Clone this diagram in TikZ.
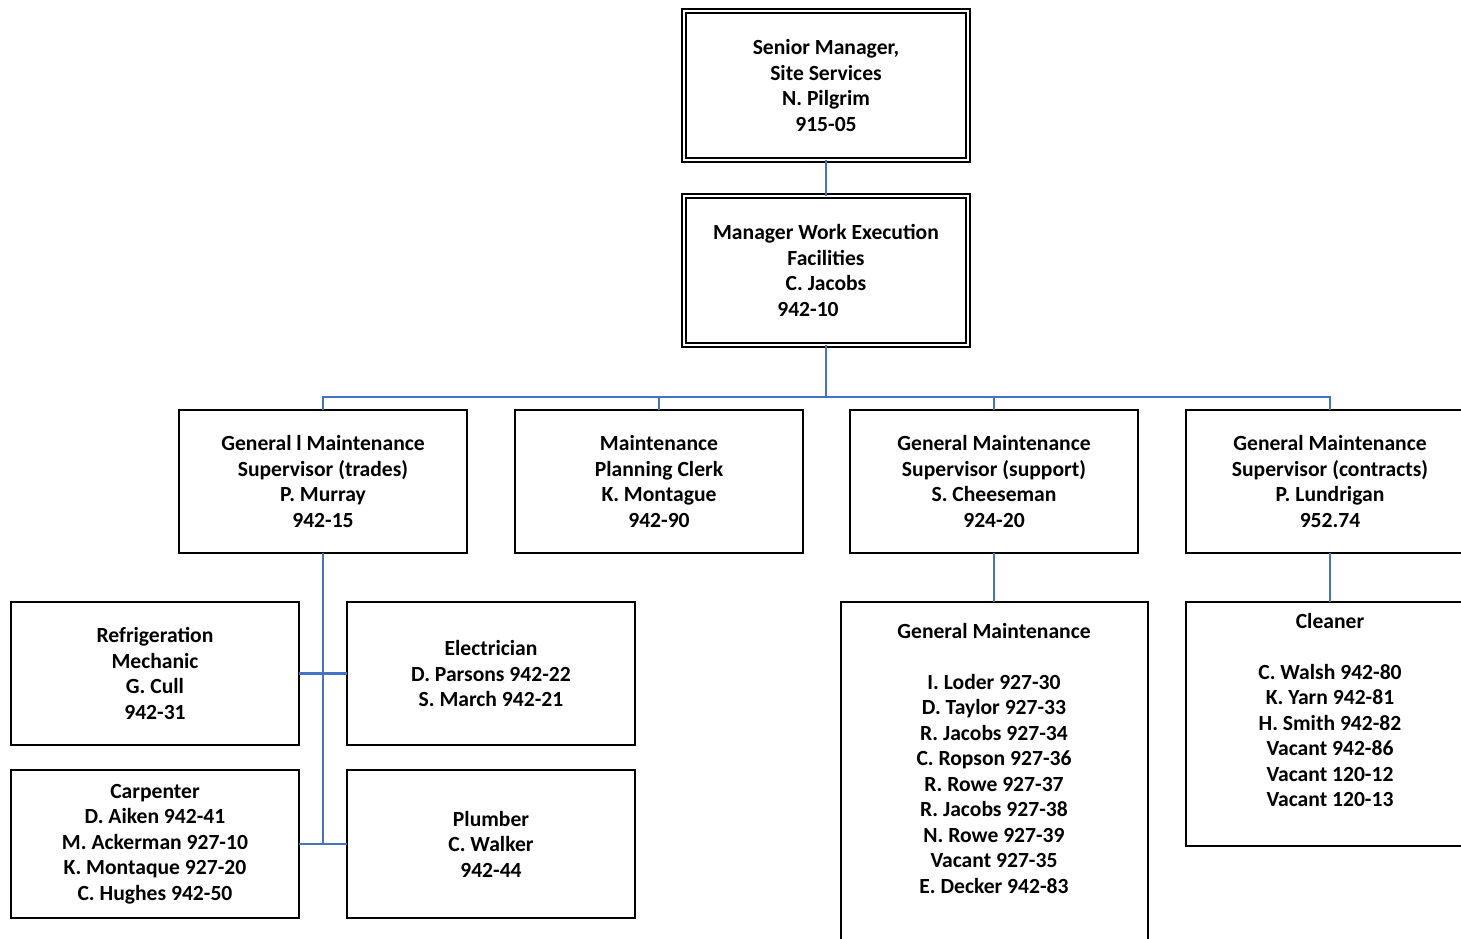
\documentclass[tikz,border=0pt]{standalone}
\usepackage{fontspec}
\setmainfont{Carlito}
\definecolor{linkblue}{RGB}{68,114,196}
\begin{document}
\begin{tikzpicture}[x=1pt,y=-1pt,
  every node/.style={font=\bfseries\fontsize{21.6}{25.5}\selectfont, align=center, inner sep=0pt, outer sep=0pt},
  box/.style={draw=black, line width=1.4pt, minimum width=288pt, minimum height=143pt},
  dbox/.style={draw=black, line width=1.5pt, double, double distance=2.2pt, minimum width=284pt, minimum height=149pt},
  conn/.style={draw=linkblue, line width=1.6pt},
  bus/.style={draw=linkblue, line width=2.2pt}
]
\useasboundingbox (0,0) rectangle (1461,939);
\fill[white] (0,0) rectangle (1461,939);

% top boxes
\node[dbox] (sm) at (826,85.5) {Senior Manager,\\Site Services\\N. Pilgrim\\915-05};
\node[dbox] (mw) at (826,270.5) {Manager Work Execution\\Facilities\\C. Jacobs\\942-10\hspace*{36pt}};

% level 3
\node[box] (gt) at (323,481.5) {General l Maintenance\\Supervisor (trades)\\P. Murray\\942-15};
\node[box] (pc) at (659,481.5) {Maintenance\\Planning Clerk\\K. Montague\\942-90};
\node[box] (gs) at (994,481.5) {General Maintenance\\Supervisor (support)\\S. Cheeseman\\924-20};
\node[box] (gc) at (1330,481.5) {General Maintenance\\Supervisor (contracts)\\P. Lundrigan\\952.74};

% trades
\node[box] (rm) at (155,673.5) {Refrigeration\\Mechanic\\G. Cull\\942-31};
\node[box] (el) at (491,673.5) {Electrician\\D. Parsons 942-22\\S. March 942-21};
\node[box, minimum height=148pt] (cp) at (155,844) {Carpenter\\D. Aiken 942-41\\M. Ackerman 927-10\\K. Montaque 927-20\\C. Hughes 942-50};
\node[box, minimum height=148pt] (pl) at (491,844) {Plumber\\C. Walker\\942-44};

% general maintenance
\node[box, minimum width=307pt, minimum height=370pt, anchor=north] (gm) at (994.5,602) {};
\node[anchor=north] (gmt) at (994,623) {General Maintenance\\[25.5pt]I. Loder 927-30\\D. Taylor 927-33\\R. Jacobs 927-34\\C. Ropson 927-36\\R. Rowe 927-37\\R. Jacobs 927-38\\N. Rowe 927-39\\Vacant 927-35\\E. Decker 942-83};

% cleaner
\node[box, minimum height=244pt, anchor=north] (cl) at (1330,602) {};
\node[anchor=north] (clt) at (1330,613) {Cleaner\\[25.5pt]C. Walsh 942-80\\K. Yarn 942-81\\H. Smith 942-82\\Vacant 942-86\\Vacant 120-12\\Vacant 120-13};

% connectors
\coordinate (busy) at (826,397);
\draw[conn] (sm.south) -- (mw.north);
\draw[bus] (mw.south) -- (busy);
\draw[bus] (gt.north) -- (gt.north |- busy) -- (gc.north |- busy) -- (gc.north);
\draw[bus] (pc.north) -- (pc.north |- busy);
\draw[bus] (gs.north) -- (gs.north |- busy);

\coordinate (t2) at (gt.south |- cp.east);
\draw[bus] (gt.south) -- (t2);
\draw[bus] (rm.east) -- (el.west);
\draw[bus] (cp.east) -- (pl.west);

\draw[conn] (gs.south) -- (gs.south |- gm.north);
\draw[conn] (gc.south) -- (cl.north);
\end{tikzpicture}
\end{document}
